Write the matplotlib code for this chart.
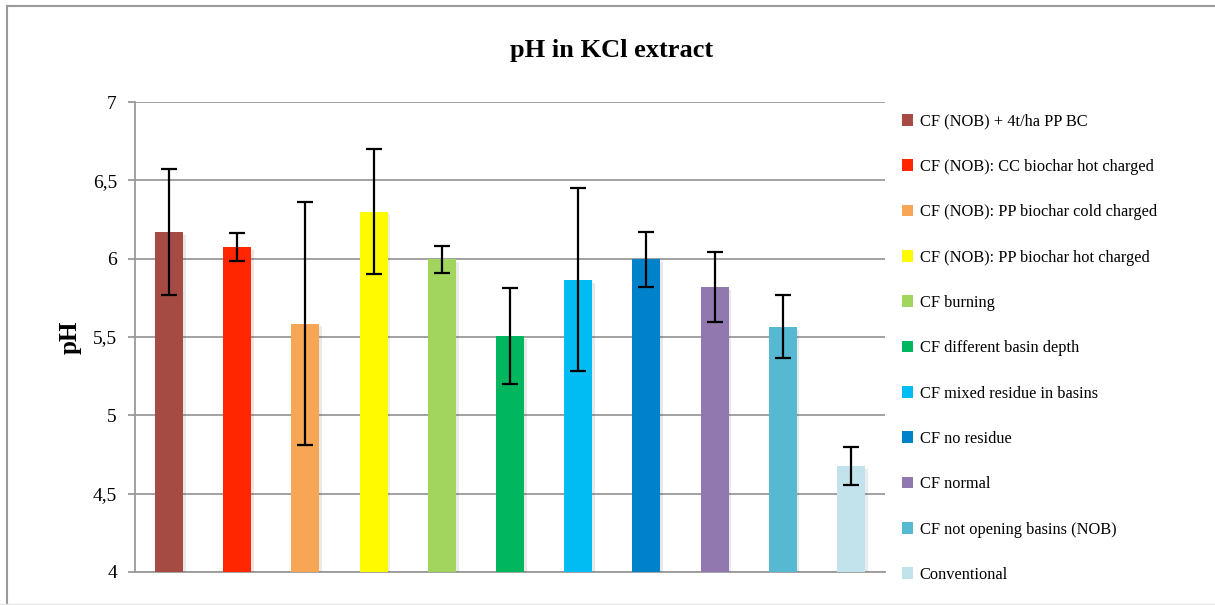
import matplotlib.pyplot as plt
import matplotlib.patheffects as pe
from matplotlib.lines import Line2D

labels = ['CF (NOB) + 4t/ha PP BC', 'CF (NOB): CC biochar hot charged',
          'CF (NOB): PP biochar cold charged', 'CF (NOB): PP biochar hot charged',
          'CF burning', 'CF different basin depth', 'CF mixed residue in basins',
          'CF no residue', 'CF normal', 'CF not opening basins (NOB)', 'Conventional']
ph = [6.17, 6.075, 5.585, 6.30, 5.995, 5.505, 5.865, 5.995, 5.82, 5.565, 4.675]
err = [0.405, 0.09, 0.775, 0.40, 0.085, 0.305, 0.585, 0.175, 0.225, 0.20, 0.12]
colors = ['#a64b44', '#ff2600', '#f7a656', '#fffa00', '#a1d55e', '#00b65e',
          '#00bcf2', '#0082cb', '#9179b0', '#57b8d1', '#c3e3ec']
yticks = [4, 4.5, 5, 5.5, 6, 6.5, 7]
ytick_labels = ['4', '4,5', '5', '5,5', '6', '6,5', '7']

plt.rcParams['font.family'] = ['Liberation Serif', 'DejaVu Serif']
grid_col = '#9a9a9a'

fig = plt.figure(figsize=(12.15, 6.05), dpi=100)
ax = fig.add_axes([135 / 1215, 33 / 605, 750 / 1215, 470 / 605])

x = range(len(labels))
bars = ax.bar(x, [v - 4 for v in ph], bottom=4, width=0.41, color=colors, zorder=3,
              path_effects=[pe.SimplePatchShadow(offset=(2, -2), alpha=0.1), pe.Normal()])
ax.errorbar(x, ph, yerr=err, fmt='none', ecolor='black', elinewidth=1.6,
            capsize=5.8, capthick=1.6, zorder=4)

ax.set_xlim(-0.5, len(labels) - 0.5)
ax.set_ylim(4, 7)
ax.set_yticks(yticks)
ax.set_yticklabels(ytick_labels, fontsize=14)
ax.set_xticks([])
ax.yaxis.grid(True, color=grid_col, lw=1.3, zorder=0)
ax.tick_params(axis='y', length=5, width=1.3, color=grid_col, pad=8)
for s in ['top', 'right']:
    ax.spines[s].set_visible(False)
for s in ['left', 'bottom']:
    ax.spines[s].set_color(grid_col)
    ax.spines[s].set_linewidth(1.3)

ax.set_ylabel('pH', fontsize=18, fontweight='bold', labelpad=8)
fig.text(612 / 1215, 1 - 51 / 605, 'pH in KCl extract', ha='center', va='center',
         fontsize=19, fontweight='bold')

leg = ax.legend(bars, labels, loc='upper left', bbox_to_anchor=(895 / 1215, 1 - 107 / 605),
                bbox_transform=fig.transFigure, frameon=False, fontsize=11.8,
                handlelength=0.7, handleheight=0.7, handletextpad=0.4, labelspacing=1.79,
                borderaxespad=0)
for h in leg.legend_handles:
    h.set_path_effects([])

# outer chart frame
fig.add_artist(Line2D([7 / 1215, 1], [1 - 6 / 605, 1 - 6 / 605], color=grid_col, lw=1.5))
fig.add_artist(Line2D([7 / 1215, 7 / 1215], [0, 1 - 6 / 605], color=grid_col, lw=1.5))
fig.add_artist(Line2D([0, 1], [1 / 605, 1 / 605], color='#e6e6e6', lw=1))

fig.savefig('out.png', dpi=100)
